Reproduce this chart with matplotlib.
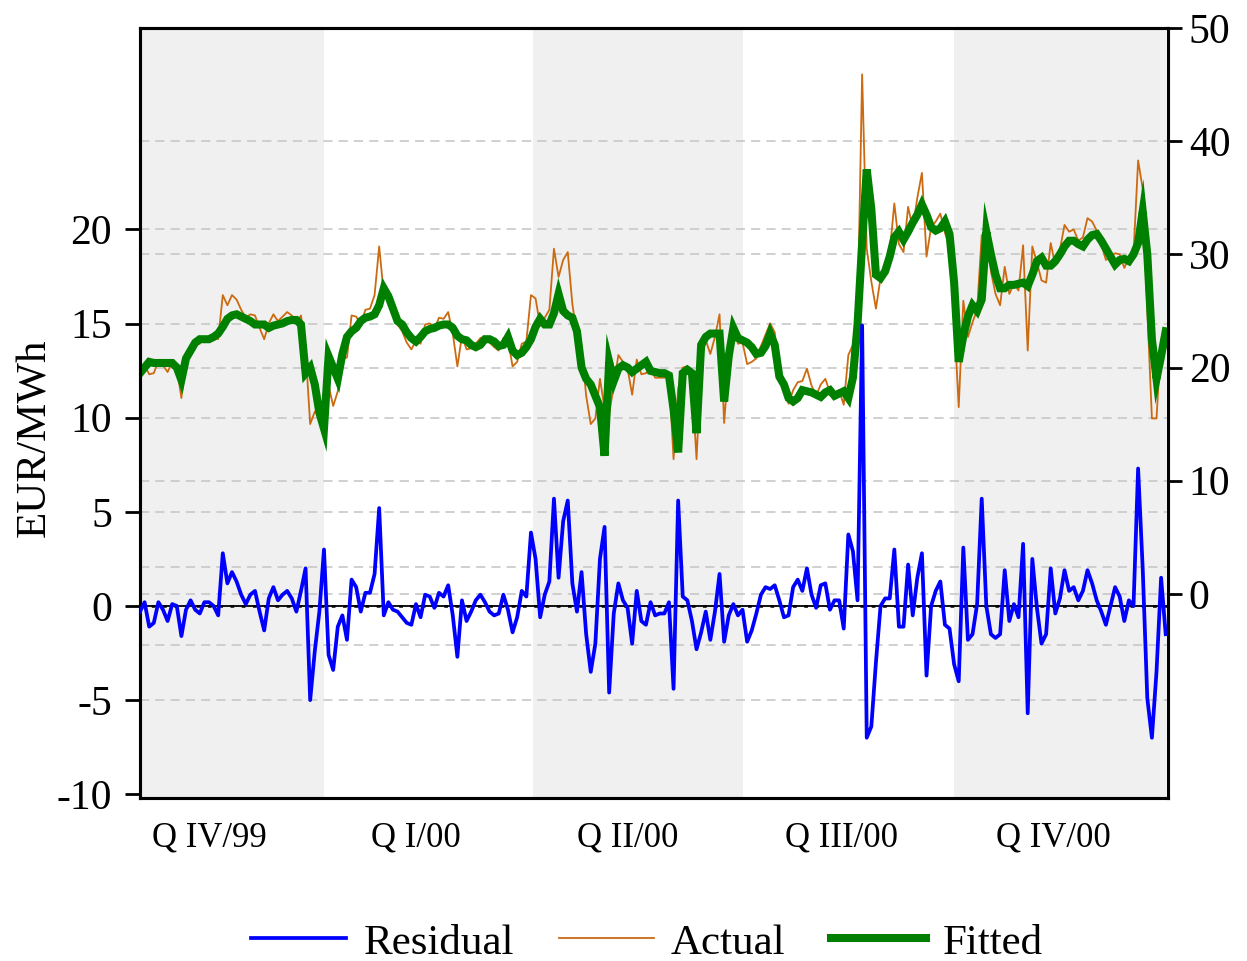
import matplotlib
matplotlib.use("Agg")
import matplotlib.pyplot as plt
import pandas as pd

plt.rcParams['font.family'] = ['Liberation Serif', 'DejaVu Serif']

# Every second day, mid-October 1999 to New Year 2001
dates = pd.date_range('1999-10-13', periods=224, freq='2D')

# Fitted spot price (EUR/MWh, right scale)
fitted = [19.5, 20.0, 20.5, 20.4, 20.4, 20.4, 20.4, 20.4, 20.0, 18.9,
          20.8, 21.5, 22.2, 22.5, 22.5, 22.5, 22.7, 23.0, 23.6, 24.3,
          24.6, 24.7, 24.5, 24.3, 24.1, 23.8, 23.8, 23.8, 23.5, 23.7,
          23.8, 23.9, 24.1, 24.2, 24.2, 23.8, 19.5, 20.0, 18.5, 16.0,
          14.6, 21.0, 20.0, 19.0, 21.2, 22.7, 23.2, 23.5, 24.1, 24.4,
          24.5, 24.7, 25.5, 27.0, 26.3, 25.2, 24.1, 23.8, 23.1, 22.6,
          22.3, 22.7, 23.2, 23.4, 23.5, 23.7, 23.8, 23.8, 23.5, 22.8,
          22.5, 22.4, 22.0, 21.8, 22.0, 22.5, 22.5, 22.3, 21.9, 22.0,
          22.7, 21.5, 21.1, 21.3, 21.8, 22.5, 23.6, 24.3, 23.8, 23.8,
          24.8, 26.5, 25.0, 24.6, 24.4, 23.2, 20.0, 19.0, 18.5, 17.5,
          16.5, 12.2, 20.5, 18.8, 19.9, 20.2, 20.0, 19.6, 19.9, 20.2,
          20.5, 19.7, 19.6, 19.5, 19.5, 19.3, 16.3, 12.5, 19.5, 19.8,
          19.5, 14.2, 22.0, 22.7, 23.0, 23.0, 23.0, 17.0, 21.0, 23.5,
          22.6, 22.4, 22.2, 21.8, 21.2, 21.3, 21.9, 23.0, 22.0, 19.2,
          18.5, 17.3, 17.0, 17.3, 18.0, 17.9, 17.8, 17.6, 17.4, 17.8,
          18.0, 17.5, 17.7, 17.9, 17.3, 19.1, 23.8, 31.0, 37.5, 34.0,
          28.2, 27.9, 28.5, 29.8, 31.5, 32.0, 31.3, 32.0, 32.8, 33.5,
          34.4, 33.5, 32.4, 32.1, 32.3, 32.9, 31.8, 27.5, 20.5, 22.8,
          24.5, 25.5, 25.0, 26.0, 32.0, 30.0, 28.2, 27.0, 27.0, 27.3,
          27.3, 27.4, 27.5, 27.2, 28.2, 29.4, 29.7, 29.0, 29.0, 29.4,
          30.0, 30.7, 31.2, 31.2, 30.9, 30.7, 31.3, 31.7, 31.8, 31.2,
          30.5, 29.8, 29.1, 29.5, 29.6, 29.4, 30.0, 31.0, 33.8, 30.0,
          22.5, 19.0, 21.0, 23.2]

# Observed spot price (EUR/MWh, right scale)
actual = [19.2, 20.2, 19.4, 19.5, 20.6, 20.2, 19.6, 20.5, 20.0, 17.3,
          20.6, 21.8, 22.0, 22.1, 22.7, 22.7, 22.7, 22.5, 26.4, 25.5,
          26.4, 26.0, 25.1, 24.4, 24.7, 24.6, 23.5, 22.5, 23.9, 24.7,
          24.1, 24.5, 24.9, 24.6, 23.9, 24.6, 21.5, 15.0, 16.1, 15.7,
          17.6, 18.4, 16.6, 17.9, 20.7, 20.9, 24.6, 24.5, 23.8, 25.1,
          25.2, 26.4, 30.7, 26.5, 26.5, 25.0, 23.8, 23.2, 22.2, 21.6,
          22.4, 22.1, 23.8, 23.9, 23.4, 24.4, 24.3, 24.9, 23.0, 20.1,
          22.8, 21.6, 21.7, 22.1, 22.6, 22.7, 22.2, 21.8, 21.5, 22.6,
          22.5, 20.1, 20.5, 22.1, 22.3, 26.4, 26.1, 23.7, 24.4, 25.1,
          30.5, 28.0, 29.5, 30.2, 25.6, 22.9, 21.8, 17.5, 15.0, 15.5,
          19.0, 16.4, 15.9, 18.4, 21.1, 20.5, 19.9, 17.6, 20.7, 19.4,
          19.5, 19.9, 19.1, 19.1, 19.1, 19.5, 11.9, 18.1, 20.0, 20.1,
          18.7, 11.9, 20.6, 22.4, 21.2, 22.7, 24.7, 15.1, 20.5, 23.6,
          22.1, 22.2, 20.3, 20.5, 20.8, 21.9, 22.9, 23.9, 23.1, 19.5,
          17.9, 16.8, 18.0, 18.7, 18.8, 19.9, 18.4, 17.5, 18.5, 19.0,
          17.8, 17.8, 18.0, 16.7, 21.1, 22.0, 24.1, 45.9, 30.5, 27.6,
          25.2, 27.9, 28.9, 30.2, 34.5, 30.9, 30.2, 34.2, 32.3, 35.0,
          37.2, 29.8, 32.4, 32.9, 33.6, 31.9, 30.6, 24.4, 16.5, 25.9,
          22.7, 24.0, 25.1, 31.7, 32.0, 28.5, 26.5, 25.5, 28.9, 26.5,
          27.4, 26.8, 30.8, 21.5, 30.7, 29.3, 27.7, 27.5, 31.0, 29.0,
          30.4, 32.6, 32.0, 32.2, 31.2, 31.5, 33.2, 32.9, 32.1, 30.9,
          29.5, 29.8, 30.1, 30.0, 28.8, 29.7, 30.0, 38.3, 35.8, 25.1,
          15.5, 15.5, 22.5, 21.7]

# Residual (left scale)
residual = [-0.3, 0.2, -1.1, -0.9, 0.2, -0.2, -0.8, 0.1, 0.0, -1.6,
            -0.2, 0.3, -0.2, -0.4, 0.2, 0.2, 0.0, -0.5, 2.8, 1.2,
            1.8, 1.3, 0.6, 0.1, 0.6, 0.8, -0.3, -1.3, 0.4, 1.0,
            0.3, 0.6, 0.8, 0.4, -0.3, 0.8, 2.0, -5.0, -2.4, -0.3,
            3.0, -2.6, -3.4, -1.1, -0.5, -1.8, 1.4, 1.0, -0.3, 0.7,
            0.7, 1.7, 5.2, -0.5, 0.2, -0.2, -0.3, -0.6, -0.9, -1.0,
            0.1, -0.6, 0.6, 0.5, -0.1, 0.7, 0.5, 1.1, -0.5, -2.7,
            0.3, -0.8, -0.3, 0.3, 0.6, 0.2, -0.3, -0.5, -0.4, 0.6,
            -0.2, -1.4, -0.6, 0.8, 0.5, 3.9, 2.5, -0.6, 0.6, 1.3,
            5.7, 1.5, 4.5, 5.6, 1.2, -0.3, 1.8, -1.5, -3.5, -2.0,
            2.5, 4.2, -4.6, -0.4, 1.2, 0.3, -0.1, -2.0, 0.8, -0.8,
            -1.0, 0.2, -0.5, -0.4, -0.4, 0.2, -4.4, 5.6, 0.5, 0.3,
            -0.8, -2.3, -1.4, -0.3, -1.8, -0.3, 1.7, -1.9, -0.5, 0.1,
            -0.5, -0.2, -1.9, -1.3, -0.4, 0.6, 1.0, 0.9, 1.1, 0.3,
            -0.6, -0.5, 1.0, 1.4, 0.8, 2.0, 0.6, -0.1, 1.1, 1.2,
            -0.2, 0.3, 0.3, -1.2, 3.8, 2.9, 0.3, 14.9, -7.0, -6.4,
            -3.0, 0.0, 0.4, 0.4, 3.0, -1.1, -1.1, 2.2, -0.5, 1.5,
            2.8, -3.7, 0.0, 0.8, 1.3, -1.0, -1.2, -3.1, -4.0, 3.1,
            -1.8, -1.5, 0.1, 5.7, 0.0, -1.5, -1.7, -1.5, 1.9, -0.8,
            0.1, -0.6, 3.3, -5.7, 2.5, -0.1, -2.0, -1.5, 2.0, -0.4,
            0.4, 1.9, 0.8, 1.0, 0.3, 0.8, 1.9, 1.2, 0.3, -0.3,
            -1.0, 0.0, 1.0, 0.5, -0.8, 0.3, 0.0, 7.3, 2.0, -4.9,
            -7.0, -3.5, 1.5, -1.5]

residual_se = 2.07

quarter_labels = ['Q IV/99', 'Q I/00', 'Q II/00', 'Q III/00', 'Q IV/00']
label_dates = pd.to_datetime(['1999-11-12', '2000-02-10', '2000-05-12',
                              '2000-08-13', '2000-11-13'])
shaded_quarters = [('1999-10-01', '2000-01-01'),
                   ('2000-04-01', '2000-07-01'),
                   ('2000-10-01', '2001-01-01')]

left_ticks = [-10, -5, 0, 5, 10, 15, 20]
left_grid = [-5, 5, 10, 15, 20]
right_ticks = [0, 10, 20, 30, 40, 50]
right_grid = [0, 10, 20, 30, 40]

x_start, x_end = pd.Timestamp('1999-10-13'), pd.Timestamp('2001-01-02')
left_lim = (-10.2, 30.7)
right_lim = (-18.04, 50.0)

grid_kw = dict(color='#c4c4c4', lw=1.1, dashes=(6, 4))

fig = plt.figure(figsize=(12.47, 9.61), dpi=100)
pos = [140 / 1247, 1 - 798 / 961, 1028 / 1247, 770 / 961]

# background layer: quarter shading and left-scale reference lines
ax_bg = fig.add_axes(pos)
ax_bg.set_xlim(x_start, x_end)
ax_bg.set_ylim(*left_lim)
for a, b in shaded_quarters:
    ax_bg.axvspan(pd.Timestamp(a), pd.Timestamp(b), color='#f0f0f0', lw=0)
for g in left_grid:
    ax_bg.axhline(g, **grid_kw)
for g in (residual_se, -residual_se):
    ax_bg.axhline(g, **grid_kw)
ax_bg.axis('off')

# residual layer (left scale)
ax = fig.add_axes(pos, sharex=ax_bg)
ax.patch.set_visible(False)
ax.set_ylim(*left_lim)

# price layer (right scale)
ax2 = ax.twinx()
ax2.set_ylim(*right_lim)
for g in right_grid:
    ax2.axhline(g, **grid_kw, zorder=0)
ax2.plot(dates, actual, color='#cc6a10', lw=1.3, zorder=2)
ax2.plot(dates, fitted, color='#008000', lw=5.8, zorder=3,
         solid_joinstyle='miter')

ax_bg.set_zorder(0)
ax2.set_zorder(1)
ax.set_zorder(2)
ax2.patch.set_visible(False)

ax.axhline(0, color='black', lw=1.3, zorder=2)
ax.axhline(0, color='black', lw=1.8, dashes=(1.5, 3), zorder=2)
ax.plot(dates, residual, color='#0000ff', lw=2.7, zorder=3)

ax.set_xlim(x_start, x_end)
ax.set_xticks(label_dates)
ax.set_xticklabels(quarter_labels)
ax.tick_params(axis='x', length=0, pad=17, labelsize=25)
ax.set_yticks(left_ticks)
ax.set_yticklabels([str(t) for t in left_ticks])
ax.tick_params(axis='y', direction='out', length=11, width=2, pad=9,
               labelsize=30)
ax2.set_yticks(right_ticks)
ax2.set_yticklabels([str(t) for t in right_ticks])
ax2.tick_params(axis='y', direction='out', length=10, width=2, pad=5,
                labelsize=30)

for s in ax.spines.values():
    s.set_linewidth(2.2)
for s in ax2.spines.values():
    s.set_linewidth(2.2)

fig.text(35 / 1247, 1 - 438 / 961, 'EUR/MWh', rotation=90, ha='center',
         va='center', fontsize=31)

handles = [plt.Line2D([], [], color='#0000ff', lw=2.7),
           plt.Line2D([], [], color='#cc6a10', lw=1.3),
           plt.Line2D([], [], color='#008000', lw=5.8)]
fig.legend(handles, ['Residual', 'Actual', 'Fitted'], loc='center',
           bbox_to_anchor=(0.519, 1 - 943 / 961), ncol=3, frameon=False,
           fontsize=31, handlelength=2.2, handletextpad=0.4,
           columnspacing=1.05)

fig.savefig('out.png', dpi=100)
